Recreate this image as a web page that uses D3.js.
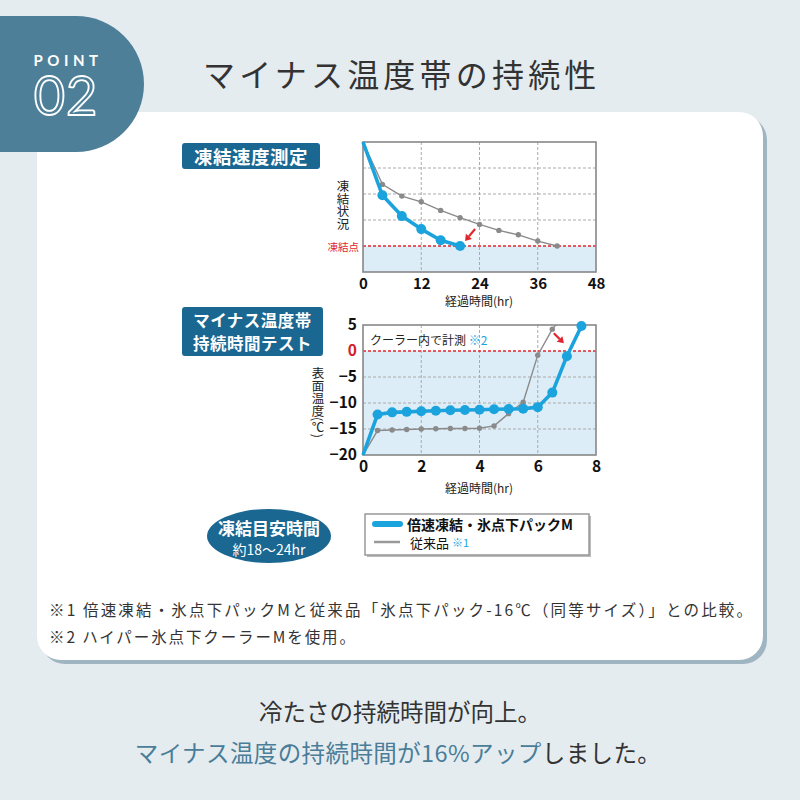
<!DOCTYPE html>
<html><head><meta charset="utf-8">
<script src="https://cdn.jsdelivr.net/npm/d3@7"></script>
<style>body{margin:0;background:#e5ecf0}svg{display:block}</style>
</head><body>
<svg id="c" width="800" height="800"></svg>
<script>
// ---------- DATA ----------
const freezeXTicks = [0, 12, 24, 36, 48];
const freezeHoursNew = [0, 4, 8, 12, 16, 20];
const freezeStateNew = [5, 2.95, 2.15, 1.65, 1.22, 1.0];
const freezeHoursOld = [0, 4, 8, 12, 16, 20, 24, 28, 32, 36, 40];
const freezeStateOld = [5, 3.37, 2.92, 2.7, 2.37, 2.09, 1.83, 1.6, 1.43, 1.19, 1.0];
const freezeGridY = [2, 3, 4];
const freezePointLevel = 1;

const tempXTicks = [0, 2, 4, 6, 8];
const tempYTicks = [5, 0, -5, -10, -15, -20];
const tempHoursNew = [0, 0.5, 1, 1.5, 2, 2.5, 3, 3.5, 4, 4.5, 5, 5.5, 6, 6.5, 7, 7.5];
const tempNew = [-20, -12.2, -11.8, -11.7, -11.6, -11.5, -11.4, -11.35, -11.3, -11.2, -11.15, -11.1, -10.8, -8.0, -1.0, 4.8];
const tempHoursOld = [0, 0.5, 1, 1.5, 2, 2.5, 3, 3.5, 4, 4.5, 5, 5.5, 6, 6.5, 7];
const tempOld = [-20, -15.3, -15.2, -15.1, -15.0, -14.95, -14.9, -14.9, -14.85, -14.4, -12.05, -9.85, -0.8, 4.2, 7.5];

const legendLabels = ["倍速凍結・氷点下パックM", "従来品"];

// ---------- STYLE ----------
const JP = '"Noto Sans CJK JP", "Noto Sans", sans-serif';
const BLUE = "#1ba3dd", GRAY = "#8a8a8a", RED = "#e0262c", NAVY = "#1a6791", FILL = "#dcedf8";
const svg = d3.select("#c");

svg.append("rect").attr("width", 800).attr("height", 800).attr("fill", "#e5ecf0");
svg.append("rect").attr("x", 41).attr("y", 116).attr("width", 726).attr("height", 548).attr("rx", 24).attr("fill", "#9fb5c2");
svg.append("rect").attr("x", 37).attr("y", 112).attr("width", 726).attr("height", 548).attr("rx", 24).attr("fill", "#fff");

// badge
svg.append("path").attr("d", "M0,16H76A68,68 0 0 1 76,152H0Z").attr("fill", "#4e7f99");
svg.append("text").attr("x", 68).attr("y", 60).attr("text-anchor", "middle").attr("dominant-baseline", "central")
  .attr("font-family", "Lato, sans-serif").attr("font-weight", 700).attr("font-size", 15).attr("letter-spacing", 4.5)
  .attr("fill", "#fff").text("POINT");
svg.append("text").attr("x", 66).attr("y", 94).attr("text-anchor", "middle").attr("dominant-baseline", "central")
  .attr("font-family", "Lato, sans-serif").attr("font-weight", 400).attr("font-size", 54).attr("letter-spacing", 1)
  .attr("fill", "none").attr("stroke", "#fff").attr("stroke-width", 1.8).text("02");

// title
svg.append("text").attr("x", 203).attr("y", 73).attr("dominant-baseline", "central")
  .attr("font-family", JP).attr("font-size", 32).attr("letter-spacing", 4.2).attr("fill", "#333")
  .text("マイナス温度帯の持続性");

function labelBox(x, y, w, h, lines, fs) {
  svg.append("rect").attr("x", x).attr("y", y).attr("width", w).attr("height", h).attr("rx", 3).attr("fill", NAVY);
  lines.forEach((t, i) => {
    svg.append("text").attr("x", x + w / 2).attr("y", y + h / (lines.length * 2) * (2 * i + 1) + (lines.length > 1 ? (i === 0 ? 1 : -1) : 0))
      .attr("text-anchor", "middle").attr("dominant-baseline", "central")
      .attr("font-family", JP).attr("font-weight", 700).attr("font-size", fs).attr("letter-spacing", 0.5)
      .attr("fill", "#fff").text(t);
  });
}
function vText(x, y0, str, fs, color) {
  svg.append("text").attr("x", x).attr("y", y0)
    .style("writing-mode", "vertical-rl")
    .attr("font-family", JP).attr("font-size", fs).attr("fill", color).text(str);
}
function arrow(tx, ty, hx, hy) {
  const a = Math.atan2(hy - ty, hx - tx), L = 6, W = 4;
  const bx = hx - L * Math.cos(a), by = hy - L * Math.sin(a);
  svg.append("line").attr("x1", tx).attr("y1", ty).attr("x2", bx).attr("y2", by).attr("stroke", RED).attr("stroke-width", 2.2);
  svg.append("path").attr("d", `M${hx},${hy}L${bx + W * Math.sin(a)},${by - W * Math.cos(a)}L${bx - W * Math.sin(a)},${by + W * Math.cos(a)}Z`).attr("fill", RED);
}
function styleAxis(g, fs) {
  g.select(".domain").remove();
  g.selectAll(".tick line").remove();
  g.selectAll("text").attr("font-family", JP).attr("font-weight", 700).attr("font-size", fs).attr("fill", "#111");
}

// ---------- CHART 1 ----------
labelBox(182, 143, 138, 26, ["凍結速度測定"], 18.5);
const x1 = d3.scaleLinear().domain([0, 48]).range([363, 596]);
const y1 = d3.scaleLinear().domain([0, 5]).range([272, 142]);
const g1 = svg.append("g");
g1.append("rect").attr("x", x1(0)).attr("y", y1(freezePointLevel)).attr("width", x1(48) - x1(0)).attr("height", y1(0) - y1(freezePointLevel)).attr("fill", FILL);
g1.selectAll(".vg").data(freezeXTicks.slice(1, -1)).join("line")
  .attr("x1", d => x1(d)).attr("x2", d => x1(d)).attr("y1", y1(5)).attr("y2", y1(0))
  .attr("stroke", "#aaa").attr("stroke-dasharray", "3,2");
g1.selectAll(".hg").data(freezeGridY).join("line")
  .attr("x1", x1(0)).attr("x2", x1(48)).attr("y1", d => y1(d)).attr("y2", d => y1(d))
  .attr("stroke", "#aaa").attr("stroke-dasharray", "3,2");
g1.append("line").attr("x1", x1(0)).attr("x2", x1(48)).attr("y1", y1(freezePointLevel)).attr("y2", y1(freezePointLevel))
  .attr("stroke", RED).attr("stroke-width", 1.3).attr("stroke-dasharray", "3,2");
g1.append("rect").attr("x", x1(0)).attr("y", y1(5)).attr("width", x1(48) - x1(0)).attr("height", y1(0) - y1(5))
  .attr("fill", "none").attr("stroke", "#888").attr("stroke-width", 1.6);
const old1 = freezeHoursOld.map((h, i) => [h, freezeStateOld[i]]);
const new1 = freezeHoursNew.map((h, i) => [h, freezeStateNew[i]]);
const line1 = d3.line().x(d => x1(d[0])).y(d => y1(d[1]));
g1.append("path").attr("d", line1(old1)).attr("fill", "none").attr("stroke", GRAY).attr("stroke-width", 1.4);
g1.selectAll(".om").data(old1.slice(1)).join("circle").attr("cx", d => x1(d[0])).attr("cy", d => y1(d[1])).attr("r", 2.7).attr("fill", GRAY);
g1.append("path").attr("d", line1(new1)).attr("fill", "none").attr("stroke", BLUE).attr("stroke-width", 3.6).attr("stroke-linejoin", "round");
g1.selectAll(".nm").data(new1.slice(1)).join("circle").attr("cx", d => x1(d[0])).attr("cy", d => y1(d[1])).attr("r", 5).attr("fill", BLUE);
const ax1 = svg.append("g").attr("transform", `translate(0,${y1(0)})`)
  .call(d3.axisBottom(x1).tickValues(freezeXTicks).tickSize(0).tickPadding(6));
styleAxis(ax1, 15);
svg.append("text").attr("x", 479).attr("y", 300).attr("text-anchor", "middle").attr("dominant-baseline", "central")
  .attr("font-family", JP).attr("font-size", 12).attr("fill", "#222").text("経過時間(hr)");
vText(343, 180, "凍結状況", 12.5, "#222");
svg.append("text").attr("x", 359).attr("y", y1(freezePointLevel)).attr("text-anchor", "end").attr("dominant-baseline", "central")
  .attr("font-family", JP).attr("font-size", 10.5).attr("fill", RED).text("凍結点");
{
  const px = x1(freezeHoursNew[5]), py = y1(freezeStateNew[5]);
  arrow(px + 15, py - 17, px + 5, py - 5);
}

// ---------- CHART 2 ----------
labelBox(182, 307, 141, 49, ["マイナス温度帯", "持続時間テスト"], 16.5);
const x2 = d3.scaleLinear().domain([0, 8]).range([363, 596]);
const y2 = d3.scaleLinear().domain([-20, 5]).range([455, 325]);
const g2 = svg.append("g");
g2.append("clipPath").attr("id", "clip2").append("rect").attr("x", x2(0)).attr("y", y2(5)).attr("width", x2(8) - x2(0)).attr("height", y2(-20) - y2(5));
g2.append("rect").attr("x", x2(0)).attr("y", y2(0)).attr("width", x2(8) - x2(0)).attr("height", y2(-20) - y2(0)).attr("fill", FILL);
g2.selectAll(".vg").data(tempXTicks.slice(1, -1)).join("line")
  .attr("x1", d => x2(d)).attr("x2", d => x2(d)).attr("y1", y2(5)).attr("y2", y2(-20))
  .attr("stroke", "#aaa").attr("stroke-dasharray", "3,2");
g2.selectAll(".hg").data([-5, -10, -15]).join("line")
  .attr("x1", x2(0)).attr("x2", x2(8)).attr("y1", d => y2(d)).attr("y2", d => y2(d))
  .attr("stroke", "#aaa").attr("stroke-dasharray", "3,2");
g2.append("line").attr("x1", x2(0)).attr("x2", x2(8)).attr("y1", y2(0)).attr("y2", y2(0))
  .attr("stroke", RED).attr("stroke-width", 1.3).attr("stroke-dasharray", "3,2");
g2.append("rect").attr("x", x2(0)).attr("y", y2(5)).attr("width", x2(8) - x2(0)).attr("height", y2(-20) - y2(5))
  .attr("fill", "none").attr("stroke", "#888").attr("stroke-width", 1.6);
const t2 = g2.append("text").attr("x", 370).attr("y", 339).attr("dominant-baseline", "central")
  .attr("font-family", JP).attr("font-size", 12).attr("fill", "#222");
t2.append("tspan").text("クーラー内で計測 ");
t2.append("tspan").attr("fill", BLUE).text("※2");
const old2 = tempHoursOld.map((h, i) => [h, tempOld[i]]);
const new2 = tempHoursNew.map((h, i) => [h, tempNew[i]]);
const line2 = d3.line().x(d => x2(d[0])).y(d => y2(d[1]));
const cg = g2.append("g").attr("clip-path", "url(#clip2)");
cg.append("path").attr("d", line2(old2)).attr("fill", "none").attr("stroke", GRAY).attr("stroke-width", 1.4);
cg.selectAll(".om").data(old2.slice(1)).join("circle").attr("cx", d => x2(d[0])).attr("cy", d => y2(d[1])).attr("r", 2.7).attr("fill", GRAY);
g2.append("path").attr("d", line2(new2)).attr("fill", "none").attr("stroke", BLUE).attr("stroke-width", 3.6).attr("stroke-linejoin", "round");
g2.selectAll(".nm").data(new2.slice(1)).join("circle").attr("cx", d => x2(d[0])).attr("cy", d => y2(d[1])).attr("r", 5).attr("fill", BLUE);
const ax2 = svg.append("g").attr("transform", `translate(0,${y2(-20)})`)
  .call(d3.axisBottom(x2).tickValues(tempXTicks).tickSize(0).tickPadding(6));
styleAxis(ax2, 15.5);
const ay2 = svg.append("g").attr("transform", `translate(${x2(0)},0)`)
  .call(d3.axisLeft(y2).tickValues(tempYTicks).tickSize(0).tickPadding(6));
styleAxis(ay2, 15.5);
ay2.selectAll("text").filter(d => d === 0).attr("fill", "#d42027");
svg.append("text").attr("x", 479).attr("y", 487).attr("text-anchor", "middle").attr("dominant-baseline", "central")
  .attr("font-family", JP).attr("font-size", 12).attr("fill", "#222").text("経過時間(hr)");
vText(318, 367, "表面温度(℃)", 12.5, "#222");
{
  const px = x2(tempHoursNew[14]), py = y2(tempNew[14]);
  arrow(px - 13, py - 23, px - 3, py - 13);
}

// ---------- OVAL ----------
svg.append("ellipse").attr("cx", 269).attr("cy", 536).attr("rx", 62).attr("ry", 27).attr("fill", NAVY);
svg.append("text").attr("x", 269).attr("y", 527).attr("text-anchor", "middle").attr("dominant-baseline", "central")
  .attr("font-family", JP).attr("font-weight", 700).attr("font-size", 17).attr("fill", "#fff").text("凍結目安時間");
svg.append("text").attr("x", 269).attr("y", 549).attr("text-anchor", "middle").attr("dominant-baseline", "central")
  .attr("font-family", JP).attr("font-size", 14).attr("fill", "#fff").text("約18〜24hr");

// ---------- LEGEND ----------
svg.append("rect").attr("x", 367).attr("y", 516).attr("width", 224).attr("height", 41).attr("fill", "#bbb");
svg.append("rect").attr("x", 365).attr("y", 514).attr("width", 224).attr("height", 41).attr("fill", "#fff").attr("stroke", "#999").attr("stroke-width", 1.5);
svg.append("line").attr("x1", 375).attr("x2", 400).attr("y1", 524).attr("y2", 524).attr("stroke", BLUE).attr("stroke-width", 6).attr("stroke-linecap", "round");
svg.append("text").attr("x", 407).attr("y", 524).attr("dominant-baseline", "central")
  .attr("font-family", JP).attr("font-weight", 700).attr("font-size", 14).attr("fill", "#111").text(legendLabels[0]);
svg.append("line").attr("x1", 374).attr("x2", 400).attr("y1", 542).attr("y2", 542).attr("stroke", "#999").attr("stroke-width", 2.5);
const lt = svg.append("text").attr("x", 410).attr("y", 542).attr("dominant-baseline", "central")
  .attr("font-family", JP).attr("font-size", 13).attr("fill", "#111");
lt.append("tspan").text(legendLabels[1] + " ");
lt.append("tspan").attr("fill", BLUE).attr("font-size", 11).text("※1");

// ---------- FOOTNOTES ----------
svg.append("text").attr("x", 49).attr("y", 609).attr("dominant-baseline", "central")
  .attr("font-family", JP).attr("font-size", 15.5).attr("fill", "#333")
  .attr("textLength", 703).attr("lengthAdjust", "spacing")
  .text("※1 倍速凍結・氷点下パックMと従来品「氷点下パック-16℃（同等サイズ）」との比較。");
svg.append("text").attr("x", 49).attr("y", 636).attr("dominant-baseline", "central")
  .attr("font-family", JP).attr("font-size", 15.5).attr("fill", "#333")
  .attr("textLength", 306).attr("lengthAdjust", "spacing")
  .text("※2 ハイパー氷点下クーラーMを使用。");

// ---------- BOTTOM ----------
svg.append("text").attr("x", 400).attr("y", 711).attr("text-anchor", "middle").attr("dominant-baseline", "central")
  .attr("font-family", JP).attr("font-size", 23.5).attr("fill", "#333").text("冷たさの持続時間が向上。");
const bt = svg.append("text").attr("x", 398).attr("y", 752).attr("text-anchor", "middle").attr("dominant-baseline", "central")
  .attr("font-family", JP).attr("font-size", 23.5).attr("letter-spacing", 0.4);
bt.append("tspan").attr("fill", "#4a7d98").text("マイナス温度の持続時間が16%アップ");
bt.append("tspan").attr("fill", "#333").text("しました。");
</script></body></html>
